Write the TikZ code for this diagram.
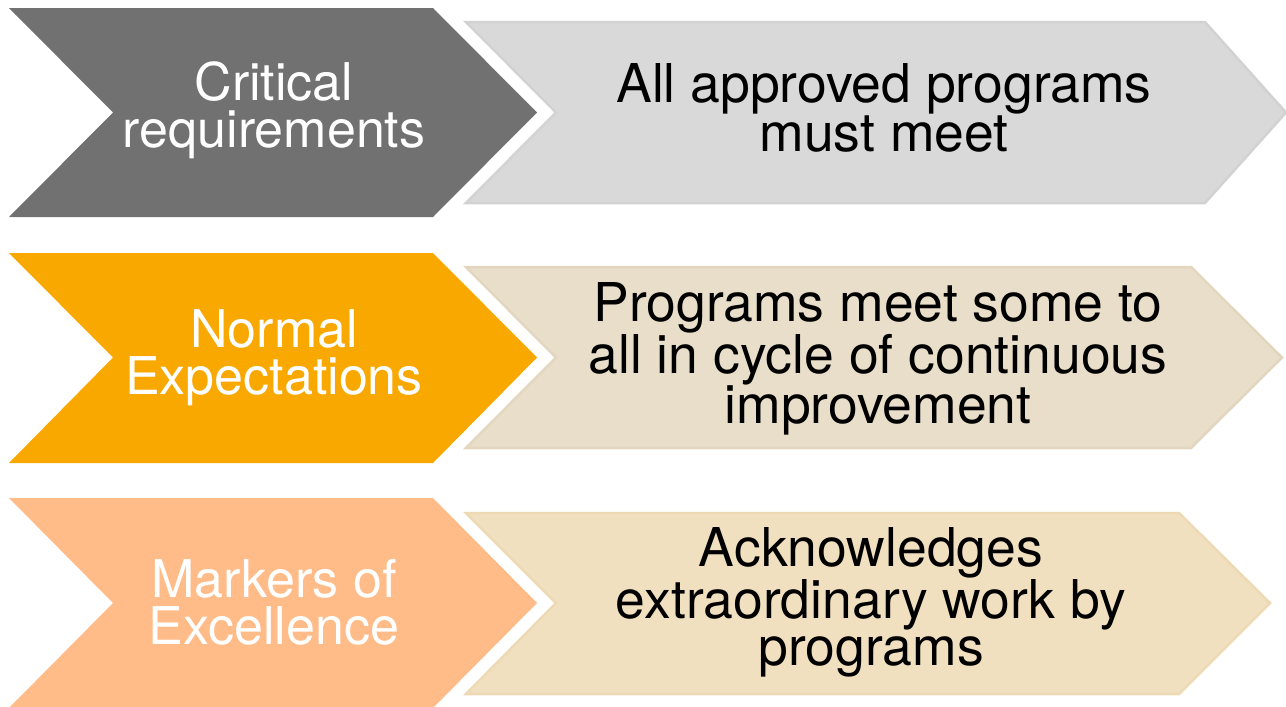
\documentclass[tikz,border=0pt]{standalone}
\usepackage{fontspec}
\setmainfont{TeX Gyre Heros}
\definecolor{leftA}{HTML}{717171}
\definecolor{rightA}{HTML}{D9D9D9}
\definecolor{rightAline}{HTML}{D2D2D2}
\definecolor{leftB}{HTML}{F9A800}
\definecolor{rightB}{HTML}{E8DECA}
\definecolor{rightBline}{HTML}{E3D6BE}
\definecolor{leftC}{HTML}{FFBC88}
\definecolor{rightC}{HTML}{F1E0C0}
\definecolor{rightCline}{HTML}{EDD9B3}
\tikzset{
  leftlabel/.style={text=white, align=center, inner sep=0pt, font=\fontsize{52}{47}\selectfont},
  rightlabel/.style={text=black, align=center, inner sep=0pt, font=\fontsize{53.5}{47}\selectfont},
  rightshape/.style={line width=2.5pt, line join=miter}
}
\begin{document}
\begin{tikzpicture}[x=1pt,y=-1pt]
\useasboundingbox (0,0) rectangle (1286,707);
\clip (0,0) rectangle (1286,707);
% Row 1
\fill[leftA] (9,8) -- (433,8) -- (537,112.5) -- (433,217) -- (9,217) -- (113,112.5) -- cycle;
\filldraw[rightshape, fill=rightA, draw=rightAline] (466,22) -- (1205,22) -- (1286,112.5) -- (1205,203) -- (466,203) -- (556,112.5) -- cycle;
\node[leftlabel] (l1) at (274,110) {Critical\\requirements};
\node[rightlabel] (r1) at (884,108) {All approved programs\\must meet};
% Row 2
\fill[leftB] (9,253) -- (433,253) -- (537,357.5) -- (433,463) -- (9,463) -- (113,357.5) -- cycle;
\filldraw[rightshape, fill=rightB, draw=rightBline] (466,267) -- (1191,267) -- (1282,357.5) -- (1191,448) -- (466,448) -- (556,357.5) -- cycle;
\node[leftlabel] (l2) at (274,358) {Normal\\Expectations};
\node[rightlabel] (r2) at (878,359) {Programs meet some to\\all in cycle of continuous\\improvement};
% Row 3
\fill[leftC] (9,498) -- (433,498) -- (537,603) -- (433,708) -- (9,708) -- (113,603) -- cycle;
\filldraw[rightshape, fill=rightC, draw=rightCline] (466,513) -- (1179,513) -- (1270,603) -- (1179,694) -- (466,694) -- (556,603) -- cycle;
\node[leftlabel] (l3) at (274,602) {Markers of\\Excellence};
\node[rightlabel] (r3) at (871,602) {Acknowledges\\extraordinary work by\\programs};
\end{tikzpicture}
\end{document}
